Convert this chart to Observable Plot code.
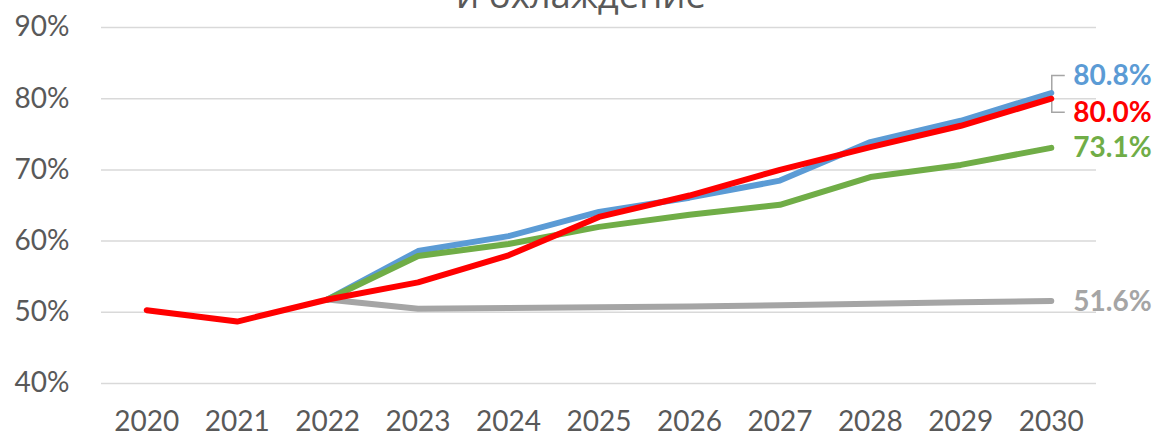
<!DOCTYPE html>
<html>
<head>
<meta charset="utf-8">
<script src="https://cdn.jsdelivr.net/npm/d3@7"></script>
<script src="https://cdn.jsdelivr.net/npm/@observablehq/plot@0.6"></script>
<style>
  body { margin: 0; background: #fff; overflow: hidden; }
  #wrap { position: relative; width: 1155px; height: 435px; overflow: hidden; }
  #title {
    position: absolute; left: 0; top: -24px; width: 1162px;
    text-align: center; white-space: nowrap;
    font-family: "Open Sans", sans-serif; font-size: 36.5px; line-height: 36px;
    color: #595959;
  }
  #chart { position: absolute; left: 0; top: 0; }
</style>
</head>
<body>
<div id="wrap">
  <div id="title">и охлаждение</div>
  <div id="chart"></div>
</div>
<script>
// Years on the horizontal axis
const years = [2020, 2021, 2022, 2023, 2024, 2025, 2026, 2027, 2028, 2029, 2030];

// Share by scenario, percent (null = no value for that year)
const redSeries   = [50.3, 48.7, 51.8, 54.2, 58.0, 63.4, 66.4, 70.0, 73.2, 76.2, 80.0];
const blueSeries  = [null, null, 51.8, 58.6, 60.7, 64.1, 66.1, 68.5, 73.9, 76.9, 80.8];
const greenSeries = [null, null, 51.8, 57.9, 59.6, 62.0, 63.7, 65.1, 69.0, 70.7, 73.1];
const graySeries  = [null, null, 51.8, 50.5, 50.6, 50.7, 50.8, 51.0, 51.2, 51.4, 51.6];

// Y axis ticks
const yTicks = [40, 50, 60, 70, 80, 90];

const colors = { red: "#FF0000", blue: "#5B9BD5", green: "#70AD47", gray: "#A5A5A5" };

const rows = (values) => years
  .map((year, i) => ({ year, value: values[i] }))
  .filter(d => d.value != null);

const last = (values) => ({ year: years[years.length - 1], value: values[values.length - 1] });
const fmt = v => v.toFixed(1) + "%";

const lineOpts = (color) => ({
  x: "year", y: "value", stroke: color, strokeWidth: 6,
  strokeLinecap: "round", strokeLinejoin: "round"
});

const labelOpts = (color, dy) => ({
  x: "year", y: "value", text: d => fmt(d.value), fill: color,
  textAnchor: "start", dx: 22, dy, fontWeight: "bold", fontSize: 28
});

// Bracket connecting the two overlapping end values to their labels
const blueDy = -17, redDy = 14;
function bracket(index, scales) {
  const x0 = scales.x(years[years.length - 1]);
  const yTop = scales.y(blueSeries[blueSeries.length - 1]) + blueDy;
  const yBot = scales.y(redSeries[redSeries.length - 1]) + redDy;
  const g = d3.create("svg:path")
    .attr("d", `M${x0 + 14},${yTop}H${x0 + 1}V${yBot}H${x0 + 14}`)
    .attr("fill", "none")
    .attr("stroke", "#A5A5A5")
    .attr("stroke-width", 1.5);
  return g.node();
}

const chart = Plot.plot({
  width: 1155,
  height: 435,
  marginTop: 27,
  marginBottom: 52,
  marginLeft: 101,
  marginRight: 59,
  style: { fontFamily: "Lato, 'Open Sans', sans-serif", fontSize: "28px", color: "#595959", background: "transparent" },
  x: { domain: [2019.5, 2030.5], ticks: years, tickFormat: d => String(d), tickSize: 0, tickPadding: 28, label: null },
  y: { domain: [40, 90], ticks: yTicks, tickFormat: d => d + "%", tickSize: 0, tickPadding: 32, label: null },
  marks: [
    Plot.gridY(yTicks, { stroke: "#D9D9D9", strokeOpacity: 1, strokeWidth: 1.5 }),
    bracket,
    Plot.line(rows(graySeries), lineOpts(colors.gray)),
    Plot.line(rows(blueSeries), lineOpts(colors.blue)),
    Plot.line(rows(greenSeries), lineOpts(colors.green)),
    Plot.line(rows(redSeries), lineOpts(colors.red)),
    Plot.text([last(blueSeries)], labelOpts(colors.blue, blueDy)),
    Plot.text([last(redSeries)], labelOpts(colors.red, redDy)),
    Plot.text([last(greenSeries)], labelOpts(colors.green, 0)),
    Plot.text([last(graySeries)], labelOpts(colors.gray, 1))
  ]
});

document.getElementById("chart").appendChild(chart);
</script>
</body>
</html>
